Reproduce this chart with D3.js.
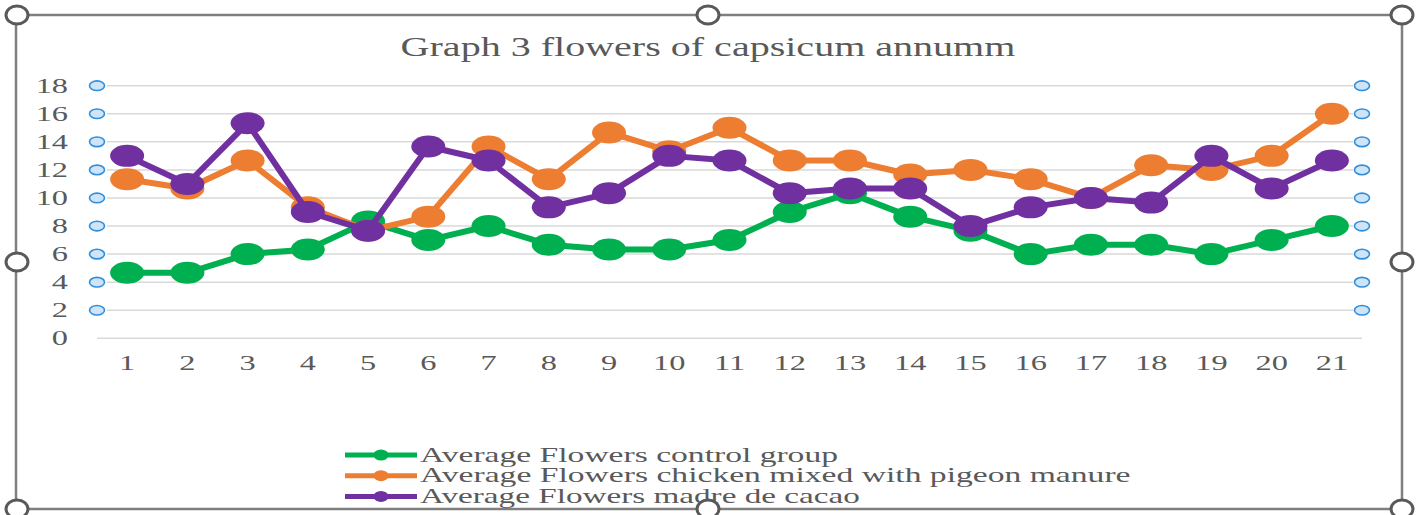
<!DOCTYPE html>
<html><head><meta charset="utf-8">
<script src="https://cdn.jsdelivr.net/npm/d3@7/dist/d3.min.js"></script>
<style>html,body{margin:0;padding:0;background:#fff;}svg{display:block;}</style>
</head><body>
<svg id="chart" width="1423" height="515"></svg>
<script>
const categories = ["1","2","3","4","5","6","7","8","9","10","11","12","13","14","15","16","17","18","19","20","21"];
const controlGroup = [4.67,4.67,6,6.33,8.33,7,8,6.67,6.33,6.33,7,9,10.33,8.67,7.67,6,6.67,6.67,6,7,8];
const chickenPigeon = [11.33,10.67,12.67,9.33,7.67,8.67,13.67,11.33,14.67,13.33,15,12.67,12.67,11.67,12,11.33,10,12.33,12,13,16];
const madreDeCacao = [13,11,15.33,9,7.67,13.67,12.67,9.33,10.33,13,12.67,10.33,10.67,10.67,8,9.33,10,9.67,13,10.67,12.67];
const seriesNames = ["Average Flowers control group","Average Flowers chicken mixed with pigeon manure","Average Flowers madre de cacao"];
const seriesColors = ["#00b050","#ed7d31","#7030a0"];
const yTicks = [0,2,4,6,8,10,12,14,16,18];
const title = "Graph 3 flowers of capsicum annumm";

const svg = d3.select("#chart");
const textColor = "#595959";
const font = "Liberation Serif, Times New Roman, serif";
const SX = 1.62;

const x = d3.scaleBand().domain(categories).range([97,1362]);
const y = d3.scaleLinear().domain([0,18]).range([338.3,85.7]);
const cx = d => x(d) + x.bandwidth()/2;

// frame
svg.append("rect").attr("x",16).attr("y",15).attr("width",1386).attr("height",494)
  .attr("fill","none").attr("stroke","#7f7f7f").attr("stroke-width",2.5);

// stretched text helper: places text at (px,py) scaled to target width
function wideText(parent, str, px, py, size, targetW, anchor){
  const g = parent.append("g");
  const t = g.append("text").attr("font-family",font).attr("font-size",size)
    .attr("fill",textColor).attr("text-anchor",anchor).text(str);
  const w = t.node().getComputedTextLength();
  const k = targetW / w;
  g.attr("transform",`translate(${px},${py}) scale(${k},1)`);
  return g;
}

// title
wideText(svg, title, 708, 56, 27, 615, "middle");

// gridlines
svg.append("g").selectAll("line").data(yTicks).join("line")
  .attr("x1",d=>d===0?97:107).attr("x2",d=>d===0?1362:1353)
  .attr("y1",d=>y(d)).attr("y2",d=>y(d))
  .attr("stroke","#d9d9d9").attr("stroke-width",1.5);

// small selection circles at gridline ends
const handlesY = yTicks.filter(d=>d>0);
[97,1362].forEach(px=>{
  svg.append("g").selectAll("ellipse").data(handlesY).join("ellipse")
    .attr("cx",px).attr("cy",d=>y(d)).attr("rx",7.5).attr("ry",4.8)
    .attr("fill","#cfe4f7").attr("stroke","#2f8fdc").attr("stroke-width",1.6);
});

// y axis
const yAxis = svg.append("g").attr("transform","translate(78,0)")
  .call(d3.axisLeft(y).tickValues(yTicks).tickSize(0).tickPadding(10));
yAxis.select(".domain").remove();
yAxis.selectAll("text").attr("font-family",font).attr("font-size",20).attr("fill",textColor)
  .attr("x",-10/SX).attr("transform",`scale(${SX},1)`);

// x axis
const xAxis = svg.append("g").attr("transform","translate(0,338.3)")
  .call(d3.axisBottom(x).tickSize(0).tickPadding(18));
xAxis.select(".domain").remove();
xAxis.selectAll("text").attr("font-family",font).attr("font-size",20).attr("fill",textColor)
  .attr("transform",`scale(${SX},1)`);

// series
const allSeries = [controlGroup, chickenPigeon, madreDeCacao];
const line = d3.line().x((d,i)=>cx(categories[i])).y(d=>y(d));
allSeries.forEach((vals,si)=>{
  const g = svg.append("g");
  g.append("path").datum(vals).attr("d",line).attr("fill","none")
    .attr("stroke",seriesColors[si]).attr("stroke-width",6).attr("stroke-linejoin","round");
  g.selectAll("ellipse").data(vals).join("ellipse")
    .attr("cx",(d,i)=>cx(categories[i])).attr("cy",d=>y(d))
    .attr("rx",17).attr("ry",11).attr("fill",seriesColors[si]);
});

// legend
const legendWidths = [418,711,440];
const lg = svg.append("g");
seriesNames.forEach((name,i)=>{
  const ly = 455 + i*20.7;
  lg.append("line").attr("x1",345).attr("x2",417).attr("y1",ly).attr("y2",ly)
    .attr("stroke",seriesColors[i]).attr("stroke-width",5);
  lg.append("ellipse").attr("cx",381).attr("cy",ly).attr("rx",7.5).attr("ry",5.5).attr("fill",seriesColors[i]);
  wideText(lg, name, 420, ly+6.5, 21, legendWidths[i], "start");
});

// resize handles on frame
const handlePts = [[17,15],[708,15],[1402,15],[17,262],[1402,262],[17,509],[708,509],[1402,509]];
svg.append("g").selectAll("ellipse").data(handlePts).join("ellipse")
  .attr("cx",d=>d[0]).attr("cy",d=>d[1]).attr("rx",11).attr("ry",9)
  .attr("fill","#fff").attr("stroke","#595959").attr("stroke-width",3);
</script>
</body></html>
